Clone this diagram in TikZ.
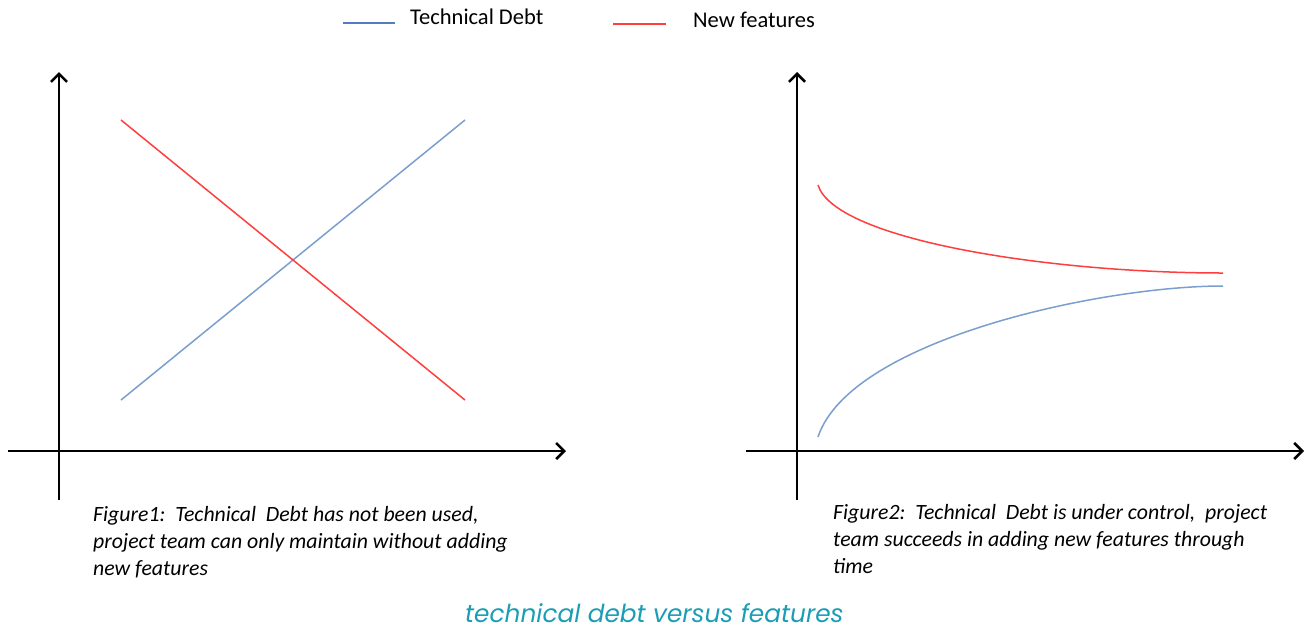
\documentclass[tikz,border=0pt]{standalone}
\usepackage{fontspec}
\setmainfont{Carlito}
\newfontfamily\capfont{Poppins}
\usepackage{tikz}
\usetikzlibrary{arrows.meta,positioning}
\definecolor{debtblue}{RGB}{122,158,206}
\definecolor{legblue}{RGB}{84,124,190}
\definecolor{featred}{RGB}{255,62,62}
\definecolor{capteal}{RGB}{27,157,181}

\begin{document}
\begin{tikzpicture}[x=1pt,y=-1pt,
  axis/.style={line width=2.6pt,black,-{Straight Barb[length=8pt,width=16pt]}},
  debt/.style={line width=1.5pt,debtblue},
  feat/.style={line width=1.5pt,featred},
  legtext/.style={font=\fontsize{22.5}{26}\selectfont,anchor=base west,inner sep=0pt},
  figcap/.style={font=\fontsize{21.8}{26.7}\selectfont\itshape,align=left,
                 anchor=base west,inner sep=0pt}]
\useasboundingbox (0,0) rectangle (1307,630);
% legend
\coordinate (debtL) at (343,23); \coordinate (debtR) at (395,23);
\coordinate (featL) at (613,24); \coordinate (featR) at (666,24);
\draw[line width=1.3pt,legblue] (debtL) -- (debtR);
\draw[feat,line width=1.3pt] (featL) -- (featR);
\node[legtext] (debtlab) at (410,24) {Technical Debt};
\node[legtext] (featlab) at (693,27) {New features};
% axes of both charts
\foreach \ox/\nm in {59/left, 797/right}
  {\coordinate (\nm ybot) at (\ox,500);
   \coordinate (\nm ytop) at (\ox,72);
   \coordinate (\nm xbeg) at (\ox-51,451);
   \coordinate (\nm xend) at (\ox+507,451);
   \draw[axis] (\nm ybot) -- (\nm ytop);
   \draw[axis] (\nm xbeg) -- (\nm xend);}
% figure 1: straight lines crossing
\coordinate (d1s) at (121,400); \coordinate (d1e) at (465,120);
\coordinate (f1s) at (121,120); \coordinate (f1e) at (465,400);
\draw[debt] (d1s) -- (d1e);
\draw[feat] (f1s) -- (f1e);
% figure 2: curves converging
\coordinate (d2s) at (818,437); \coordinate (d2e) at (1223,286);
\coordinate (f2s) at (818,185); \coordinate (f2e) at (1223,273);
\draw[debt] (d2s) .. controls (850,340) and (1100,286) .. (d2e);
\draw[feat] (f2s) .. controls (835,240) and (1050,273) .. (f2e);
% captions (base = baseline of the last line)
\node[figcap] (cap1) at (93,575)
  {Figure1:\ \ Technical\ \ Debt has not been used,\\
   project team can only maintain without adding\\
   new features};
\node[figcap] (cap2) at (833,573)
  {Figure2:\ \ Technical\ \ Debt is under control,\ \ project\\
   team succeeds in adding new features through\\
   time};
\node[font=\capfont\fontsize{24.8}{28}\selectfont\itshape,text=capteal,
      anchor=base west,inner sep=0pt] (title) at (465,622)
  {technical debt versus features};
\end{tikzpicture}
\end{document}
